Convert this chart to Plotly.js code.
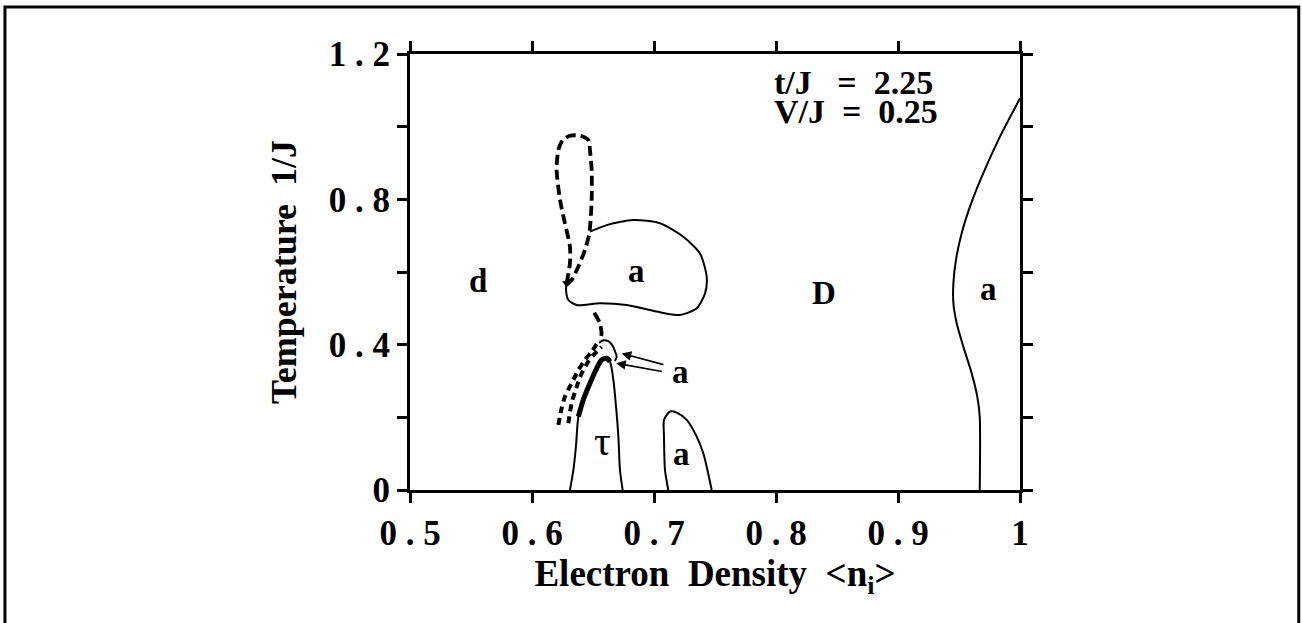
<!DOCTYPE html>
<html>
<head>
<meta charset="utf-8">
<script src="https://cdn.plot.ly/plotly-3.0.1.min.js"></script>
<style>
  html, body { margin: 0; padding: 0; background: #fff; }
  #phase { width: 1302px; height: 623px; }
</style>
</head>
<body>
<div id="phase"></div>
<script>
// phase boundaries (density, temperature)
const rightX = [1.0, 0.9836, 0.9686, 0.959, 0.9522, 0.9475, 0.9454, 0.9454, 0.9481, 0.9536, 0.9604, 0.965, 0.967, 0.967];
const rightY = [1.078, 0.9725, 0.862, 0.780, 0.7066, 0.633, 0.569, 0.514, 0.459, 0.394, 0.321, 0.257, 0.202, 0];

const loopX = [0.6475, 0.6612, 0.683, 0.7049, 0.724, 0.7377, 0.7432, 0.7418, 0.735, 0.7213, 0.7022, 0.6776, 0.6557, 0.6366, 0.6298, 0.6279, 0.6284];
const loopY = [0.711, 0.729, 0.743, 0.734, 0.697, 0.651, 0.587, 0.541, 0.500, 0.4817, 0.491, 0.509, 0.514, 0.509, 0.523, 0.5505, 0.569];

const dropX = [0.6284, 0.6311, 0.6311, 0.627, 0.623, 0.6202, 0.6216, 0.625, 0.631, 0.640, 0.6465, 0.6475, 0.6489, 0.6489, 0.647, 0.6434, 0.638, 0.6325, 0.6284];
const dropY = [0.569, 0.624, 0.670, 0.734, 0.798, 0.881, 0.936, 0.962, 0.975, 0.975, 0.962, 0.936, 0.881, 0.798, 0.7066, 0.661, 0.615, 0.578, 0.565];

const stubX = [0.651, 0.6555, 0.657, 0.6555];
const stubY = [0.488, 0.46, 0.43, 0.41];

const capX = [0.655, 0.6585, 0.6625, 0.6655, 0.668, 0.6694, 0.668];
const capY = [0.405, 0.412, 0.410, 0.400, 0.382, 0.367, 0.355];

const tauX = [0.6311, 0.6339, 0.636, 0.638, 0.642, 0.6475, 0.653, 0.657, 0.6612, 0.664, 0.6667, 0.6689, 0.6708, 0.6721, 0.6743];
const tauY = [0, 0.055, 0.119, 0.2018, 0.248, 0.294, 0.335, 0.358, 0.3625, 0.353, 0.303, 0.229, 0.147, 0.055, 0];

const thickX = [0.638, 0.642, 0.6475, 0.653, 0.657, 0.6612, 0.664];
const thickY = [0.2018, 0.248, 0.294, 0.335, 0.358, 0.3625, 0.353];

const dotAX = [0.6216, 0.6243, 0.627, 0.6325, 0.638, 0.6434, 0.6489, 0.6543];
const dotAY = [0.179, 0.225, 0.257, 0.294, 0.330, 0.358, 0.381, 0.408];
const dotBX = [0.6298, 0.6325, 0.6366, 0.6407, 0.6461, 0.6516, 0.657];
const dotBY = [0.1835, 0.2386, 0.284, 0.321, 0.353, 0.376, 0.394];

const domeX = [0.7117, 0.709, 0.7082, 0.7082, 0.713, 0.7186, 0.7268, 0.735, 0.7404, 0.7432, 0.7473];
const domeY = [0, 0.055, 0.147, 0.193, 0.2156, 0.213, 0.193, 0.147, 0.101, 0.064, 0];

// arrows: head and tail
const arrowHeadX = [0.6735, 0.6689];
const arrowHeadY = [0.376, 0.349];
const arrowTailX = [0.709, 0.7077];
const arrowTailY = [0.344, 0.3256];

// region labels
const labelText = ['d', 'a', 'D', 'a', 'a', 'a'];
const labelX = [0.5558, 0.6858, 0.8395, 0.974, 0.7215, 0.7222];
const labelY = [0.574, 0.602, 0.541, 0.552, 0.3256, 0.098];

const xTicks = [0.5, 0.6, 0.7, 0.8, 0.9, 1];
const xTickText = ['0 . 5', '0 . 6', '0 . 7', '0 . 8', '0 . 9', '1'];
const yTicks = [0, 0.2, 0.4, 0.6, 0.8, 1.0, 1.2];
const yTickText = ['0', '', '0 . 4', '', '0 . 8', '', '1 . 2'];

const serif = 'Liberation Serif, Times New Roman, serif';

function curve(x, y, width, dash) {
    return {
        x: x,
        y: y,
        type: 'scatter',
        mode: 'lines',
        hoverinfo: 'skip',
        line: { color: '#000', width: width, dash: dash || 'solid', shape: 'spline', smoothing: 0.7 }
    };
}

const data = [
    curve(rightX, rightY, 2),
    curve(loopX, loopY, 2),
    curve(dropX, dropY, 3.8, '10px,5px'),
    curve(stubX, stubY, 3.8, '10px,5px'),
    curve(capX, capY, 2),
    curve(tauX, tauY, 2),
    curve(thickX, thickY, 5),
    curve(dotAX, dotAY, 4, '7px,5px'),
    curve(dotBX, dotBY, 4, '7px,5px'),
    curve(domeX, domeY, 2),
    {
        x: [dropX[0]],
        y: [dropY[0]],
        type: 'scatter',
        mode: 'markers',
        hoverinfo: 'skip',
        marker: { symbol: 'triangle-down', size: 8, color: '#000' }
    }
];

const annotations = labelText.map((t, i) => ({
    x: labelX[i],
    y: labelY[i],
    text: t,
    showarrow: false,
    font: { family: serif, size: 33, weight: 'bold', color: '#000' }
}));

annotations.push({
    x: 0.6575, y: 0.135, text: 'τ', showarrow: false,
    font: { family: serif, size: 42, color: '#000' }
});

for (let i = 0; i < arrowHeadX.length; i++) {
    annotations.push({
        x: arrowHeadX[i], y: arrowHeadY[i],
        ax: arrowTailX[i], ay: arrowTailY[i],
        axref: 'x', ayref: 'y',
        text: '', showarrow: true,
        arrowhead: 2, arrowsize: 1.2, arrowwidth: 1.6, arrowcolor: '#000'
    });
}

annotations.push({
    x: 0.797, y: 1.121, xanchor: 'left',
    text: 't/J\u00a0\u00a0\u00a0=\u00a0\u00a02.25', showarrow: false,
    font: { family: serif, size: 34, weight: 'bold', color: '#000' }
});
annotations.push({
    x: 0.797, y: 1.041, xanchor: 'left',
    text: 'V/J\u00a0\u00a0=\u00a0\u00a00.25', showarrow: false,
    font: { family: serif, size: 34, weight: 'bold', color: '#000' }
});

const layout = {
    width: 1302,
    height: 623,
    margin: { l: 410, r: 282, t: 54, b: 133 },
    paper_bgcolor: '#fff',
    plot_bgcolor: '#fff',
    showlegend: false,
    font: { family: serif, color: '#000' },
    xaxis: {
        range: [0.5, 1],
        tickvals: xTicks,
        ticktext: xTickText,
        ticks: 'outside',
        ticklen: 10,
        tickwidth: 3,
        tickcolor: '#000',
        showline: true,
        linewidth: 3,
        linecolor: '#000',
        mirror: 'ticks',
        showgrid: false,
        zeroline: false,
        tickfont: { family: serif, size: 35, weight: 'bold' },
        title: {
            text: 'Electron\u00a0\u00a0Density\u00a0\u00a0&lt;n<sub>i</sub>&gt;',
            font: { family: serif, size: 37, weight: 'bold' },
            standoff: 8
        }
    },
    yaxis: {
        range: [0, 1.2],
        tickvals: yTicks,
        ticktext: yTickText,
        ticks: 'outside',
        ticklen: 10,
        tickwidth: 3,
        tickcolor: '#000',
        showline: true,
        linewidth: 3,
        linecolor: '#000',
        mirror: 'ticks',
        showgrid: false,
        zeroline: false,
        tickfont: { family: serif, size: 35, weight: 'bold' },
        title: {
            text: 'Temperature\u00a0\u00a01/J',
            font: { family: serif, size: 36, weight: 'bold' },
            standoff: 22
        }
    },
    annotations: annotations,
    shapes: [{
        type: 'rect', xref: 'paper', yref: 'paper',
        x0: -0.664, x1: 1.457, y0: -0.31, y1: 1.108,
        line: { color: '#000', width: 3 }
    }]
};

Plotly.newPlot('phase', data, layout, { displayModeBar: false, staticPlot: true });
</script>
</body>
</html>
